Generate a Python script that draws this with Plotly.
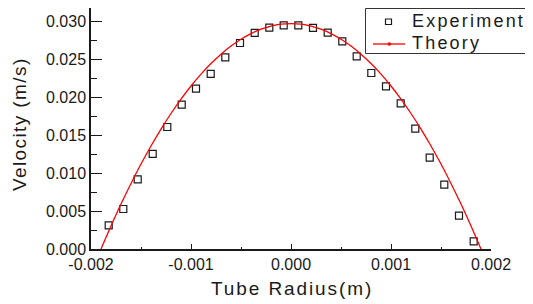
import plotly.graph_objects as go

# Experiment data (tube radius in m, velocity in m/s)
exp_r = [-0.001823, -0.001677, -0.001533, -0.001383, -0.001237, -0.001093,
         -0.000950, -0.000803, -0.000657, -0.000510, -0.000363, -0.000217,
         -0.000073, 0.000073, 0.000220, 0.000367, 0.000513, 0.000657,
         0.000803, 0.000950, 0.001097, 0.001243, 0.001387, 0.001533,
         0.001680, 0.001827]
exp_v = [0.00312, 0.00527, 0.00918, 0.01252, 0.01607, 0.01901,
         0.02112, 0.02306, 0.02525, 0.02714, 0.02846, 0.02916,
         0.02947, 0.02947, 0.02912, 0.02850, 0.02736, 0.02539,
         0.02319, 0.02143, 0.01919, 0.01585, 0.01203, 0.00847,
         0.00439, 0.00101]

# Theory curve
theory_r = [-0.0019, -0.0018, -0.0017, -0.0016, -0.0015, -0.0014, -0.0013,
            -0.0012, -0.0011, -0.0010, -0.0009, -0.0008, -0.0007, -0.0006,
            -0.0005, -0.0004, -0.0003, -0.0002, -0.0001, 0.0, 0.0001, 0.0002,
            0.0003, 0.0004, 0.0005, 0.0006, 0.0007, 0.0008, 0.0009, 0.0010,
            0.0011, 0.0012, 0.0013, 0.0014, 0.0015, 0.0016, 0.0017, 0.0018,
            0.0019]
theory_v = [0.0, 0.00304, 0.00592, 0.00864, 0.01119, 0.01357, 0.01580,
            0.01785, 0.01974, 0.02147, 0.02304, 0.02443, 0.02567, 0.02674,
            0.02764, 0.02838, 0.02896, 0.02937, 0.02962, 0.02970, 0.02962,
            0.02937, 0.02896, 0.02838, 0.02764, 0.02674, 0.02567, 0.02443,
            0.02304, 0.02147, 0.01974, 0.01785, 0.01580, 0.01357, 0.01119,
            0.00864, 0.00592, 0.00304, 0.0]

series_names = ["Experiment", "Theory"]
x_title = "Tube Radius(m)"
y_title = "Velocity (m/s)"

x_tickvals = [-0.002, -0.001, 0.0, 0.001, 0.002]
x_ticktext = ["-0.002", "-0.001", "0.000", "0.001", "0.002"]
x_minor = [-0.0015, -0.0005, 0.0005, 0.0015]
y_tickvals = [0.0, 0.005, 0.010, 0.015, 0.020, 0.025, 0.030]
y_ticktext = ["0.000", "0.005", "0.010", "0.015", "0.020", "0.025", "0.030"]
y_minor = [0.0025, 0.0075, 0.0125, 0.0175, 0.0225, 0.0275]

FONT = "Liberation Sans, Arial, sans-serif"
INK = "#1a1a1a"
RED = "#ff0000"


def spaced(text, px):
    return '<span style="letter-spacing:%.1fpx">%s</span>' % (px, text)


fig = go.Figure()
fig.add_trace(go.Scatter(
    x=exp_r, y=exp_v, mode="markers", name=series_names[0], showlegend=False,
    marker=dict(symbol="square-open", size=7, color=INK, line=dict(width=1.2, color=INK)),
))
fig.add_trace(go.Scatter(
    x=theory_r, y=theory_v, mode="lines", name=series_names[1], showlegend=False,
    line=dict(color=RED, width=1.3, shape="spline"),
))

# paper-coordinate helpers for the boxed legend (plot area: 400 x 241 px)
def px(xp):
    return (xp - 91) / 400.0


def py(yp):
    return (249 - yp) / 241.0


shapes = [
    # legend frame
    dict(type="rect", xref="paper", yref="paper", x0=px(365.5), x1=px(531.5),
         y0=py(53.5), y1=py(8.5), line=dict(color="#333333", width=1), fillcolor="white",
         layer="above"),
    # Experiment symbol
    dict(type="rect", xref="paper", yref="paper", x0=px(385.5), x1=px(391.5),
         y0=py(24.5), y1=py(19.0), line=dict(color=INK, width=1.2), layer="above"),
    # Theory symbol: line with a dot
    dict(type="line", xref="paper", yref="paper", x0=px(373), x1=px(405),
         y0=py(44), y1=py(44), line=dict(color=RED, width=1.3), layer="above"),
    dict(type="circle", xref="paper", yref="paper", x0=px(387.8), x1=px(390.8),
         y0=py(45.5), y1=py(42.5), line=dict(color=RED, width=0.5), fillcolor=RED,
         layer="above"),
]

annotations = [
    dict(text=spaced(series_names[0], 2.2), xref="paper", yref="paper", x=px(410), y=py(20.5),
         xanchor="left", yanchor="middle", showarrow=False,
         font=dict(size=18, family=FONT, color=INK)),
    dict(text=spaced(series_names[1], 2.2), xref="paper", yref="paper", x=px(410), y=py(43),
         xanchor="left", yanchor="middle", showarrow=False,
         font=dict(size=18, family=FONT, color=INK)),
    dict(text=spaced(x_title, 1.9), xref="paper", yref="paper", x=px(292), y=py(288),
         xanchor="center", yanchor="middle", showarrow=False,
         font=dict(size=19, family=FONT, color=INK)),
    dict(text=spaced(y_title, 1.4), xref="paper", yref="paper", x=px(20), y=py(124),
         xanchor="center", yanchor="middle", showarrow=False, textangle=-90,
         font=dict(size=19, family=FONT, color=INK)),
]

fig.update_layout(
    width=525, height=296,
    margin=dict(l=83, r=42, t=0, b=55, autoexpand=False),
    paper_bgcolor="white", plot_bgcolor="white",
    font=dict(family=FONT, color=INK),
    showlegend=False,
    xaxis=dict(
        range=[-0.002, 0.002], showgrid=False, zeroline=False,
        showline=True, linecolor=INK, linewidth=1.5,
        ticks="inside", ticklen=5, tickwidth=1, tickcolor=INK,
        tickmode="array", tickvals=x_tickvals, ticktext=x_ticktext,
        tickfont=dict(size=16, family=FONT, color=INK),
        minor=dict(ticks="inside", ticklen=2, tickcolor=INK, tickvals=x_minor),
        automargin=False,
    ),
    yaxis=dict(
        range=[0, 0.03175], showgrid=False, zeroline=False,
        showline=True, linecolor=INK, linewidth=1.5,
        ticks="inside", ticklen=11, tickwidth=1, tickcolor=INK,
        tickmode="array", tickvals=y_tickvals, ticktext=y_ticktext,
        tickfont=dict(size=16, family=FONT, color=INK),
        minor=dict(ticks="inside", ticklen=6, tickcolor=INK, tickvals=y_minor),
        automargin=False,
    ),
    shapes=shapes,
    annotations=annotations,
)

fig.write_html("out.html")
